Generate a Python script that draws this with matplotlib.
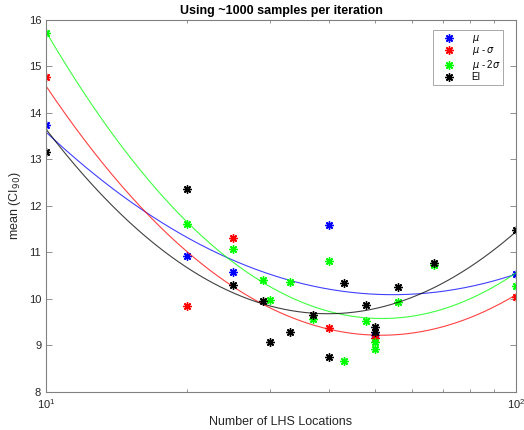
import numpy as np
import matplotlib.pyplot as plt
from matplotlib.ticker import LogLocator, NullFormatter

plt.rcParams['font.family'] = ['Liberation Sans', 'DejaVu Sans']
plt.rcParams['mathtext.fontset'] = 'dejavusans'

# values (x = number of LHS locations)
mu_x = [10, 20, 25, 40, 50, 100]
mu_y = [13.74, 10.92, 10.57, 11.60, 9.22, 10.54]

mu1s_x = [10, 20, 25, 40, 50, 100]
mu1s_y = [14.77, 9.85, 11.31, 9.38, 9.16, 10.05]

mu2s_x = [10, 20, 25, 29, 30, 33, 37, 40, 43, 48, 50, 50, 56, 67, 100]
mu2s_y = [15.72, 11.61, 11.07, 10.41, 9.98, 10.37, 9.58, 10.81, 8.67, 9.52,
          9.08, 8.93, 9.94, 10.74, 10.29]

ei_x = [10, 20, 25, 29, 30, 33, 37, 40, 43, 48, 50, 50, 56, 67, 100]
ei_y = [13.16, 12.37, 10.30, 9.96, 9.08, 9.28, 9.65, 8.76, 10.35, 9.88,
        9.40, 9.29, 10.25, 10.77, 11.48]

series = [
    (mu_x, mu_y, 'b', r'$\mu$'),
    (mu1s_x, mu1s_y, 'r', r'$\mu$ - $\sigma$'),
    (mu2s_x, mu2s_y, '#00ff00', r'$\mu$ - 2$\sigma$'),
    (ei_x, ei_y, 'k', 'EI'),
]

fig = plt.figure(figsize=(5.24, 4.30), dpi=100)
ax = fig.add_axes([0.0878, 0.0884, 0.8969, 0.8651])

xs = np.logspace(1, 2, 200)
for x, y, c, lab in series:
    ax.plot(x, y, linestyle='none', marker=(8, 2, 0), markersize=6,
            markeredgewidth=1.0, color=c, label=lab)
    # quadratic fit in log10(x)
    p = np.polyfit(np.log10(x), y, 2)
    ax.plot(xs, np.polyval(p, np.log10(xs)), color=c, linewidth=0.8, alpha=0.75)

ax.set_xscale('log')
ax.set_xlim(10, 100)
ax.set_ylim(8, 16)
ax.set_yticks(range(8, 17))
ax.xaxis.set_minor_locator(LogLocator(base=10, subs=np.arange(2, 10)))
ax.xaxis.set_minor_formatter(NullFormatter())

axcol = '#262626'
for s in ax.spines.values():
    s.set_color('#808080')
    s.set_linewidth(0.8)
ax.tick_params(which='both', direction='in', top=True, right=True,
               colors='#808080', labelcolor=axcol, labelsize=8, width=0.6)
ax.tick_params(which='major', length=4)
ax.tick_params(which='minor', length=2.5)

ax.set_xlabel('Number of LHS Locations', fontsize=9, color=axcol)
ax.set_ylabel(r'mean (CI$_{90}$)', fontsize=9, color=axcol)
ax.set_title('Using ~1000 samples per iteration', fontsize=9, fontweight='bold',
             color='k', pad=4)

leg = ax.legend(loc='upper right', fontsize=7, frameon=True, fancybox=False,
                edgecolor='#808080', borderpad=0.3, handletextpad=0.9,
                handlelength=2.8, labelspacing=0.05, borderaxespad=0,
                bbox_to_anchor=(0.973, 0.973))
leg.get_frame().set_linewidth(0.6)

fig.savefig('out.png', dpi=100)
